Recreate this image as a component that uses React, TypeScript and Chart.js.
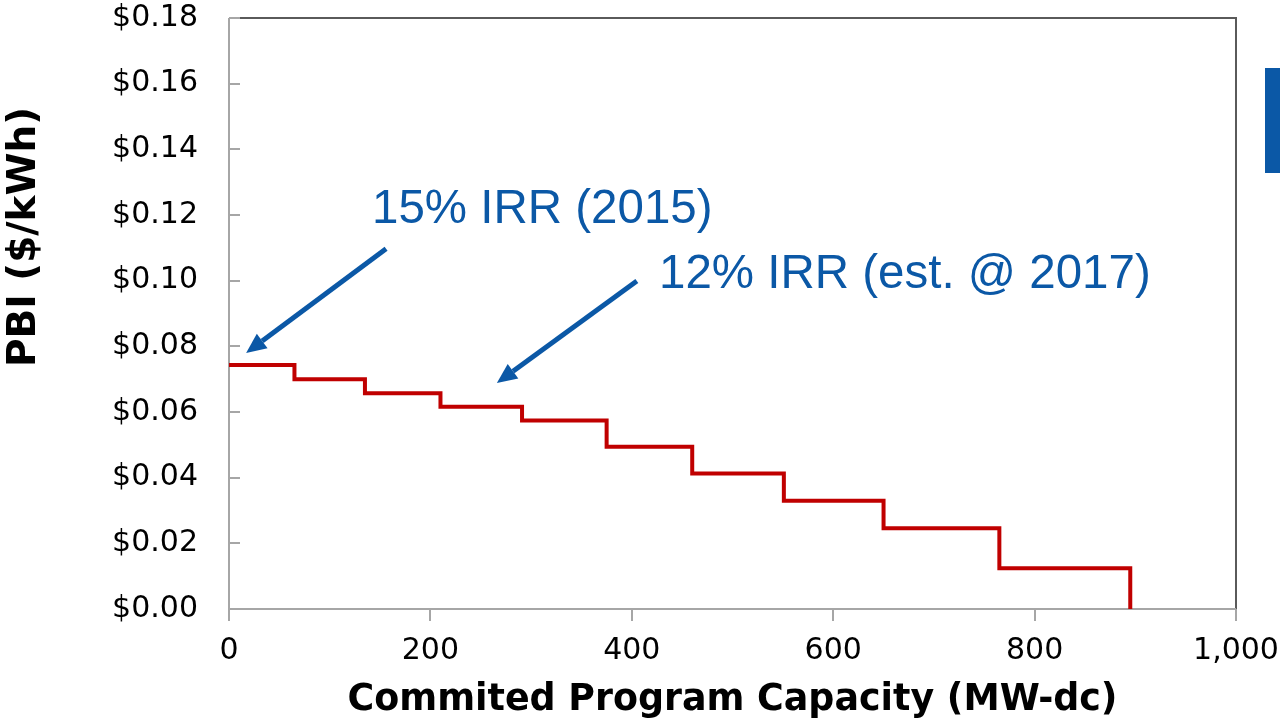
import React, { useEffect, useRef } from "react";
import { Chart, registerables } from "chart.js";

Chart.register(...registerables);

// ---- data ----
const capacityMW = [0, 65, 135, 210, 291, 375, 460, 551, 650, 765, 895];
const pbiRate = [0.0743, 0.07, 0.0657, 0.0616, 0.0574, 0.0494, 0.0413, 0.033, 0.0246, 0.0124, 0];

const xTickValues = [0, 200, 400, 600, 800, 1000];
const xTickLabels = ["0", "200", "400", "600", "800", "1,000"];
const yTickValues = [0, 0.02, 0.04, 0.06, 0.08, 0.1, 0.12, 0.14, 0.16, 0.18];
const yTickLabels = ["$0.00", "$0.02", "$0.04", "$0.06", "$0.08", "$0.10", "$0.12", "$0.14", "$0.16", "$0.18"];

const xTitle = "Commited Program Capacity (MW-dc)";
const yTitle = "PBI ($/kWh)";

// annotations (in data coordinates)
const noteTexts = ["15% IRR (2015)", "12% IRR (est. @ 2017)"];
const noteX = [142, 427];
const noteY = [0.1176, 0.0978];
const arrowFromX = [156, 405];
const arrowFromY = [0.1097, 0.0999];
const arrowToX = [17, 266];
const arrowToY = [0.078, 0.0688];

const BLUE = "#0b58a6";
const TICK_FONT = "DejaVu Sans, Verdana, sans-serif";

const framePlugin = {
  id: "frame",
  beforeDatasetsDraw(chart: any) {
    const { ctx, chartArea: a, scales } = chart;
    const x = scales.x;
    const y = scales.y;
    ctx.save();
    ctx.strokeStyle = "#5a5a5a";
    ctx.lineWidth = 2;
    ctx.beginPath();
    ctx.moveTo(a.left + 11, a.top);
    ctx.lineTo(a.right, a.top);
    ctx.lineTo(a.right, a.bottom);
    ctx.stroke();
    ctx.strokeStyle = "#a6a6a6";
    ctx.lineWidth = 2;
    ctx.beginPath();
    ctx.moveTo(a.left, a.top);
    ctx.lineTo(a.left, a.bottom);
    ctx.lineTo(a.right, a.bottom);
    ctx.stroke();
    ctx.beginPath();
    yTickValues.forEach((v) => {
      const py = Math.round(y.getPixelForValue(v));
      ctx.moveTo(a.left, py);
      ctx.lineTo(a.left + 11, py);
    });
    xTickValues.forEach((v) => {
      const px = Math.round(x.getPixelForValue(v));
      ctx.moveTo(px, a.bottom);
      ctx.lineTo(px, a.bottom + 12);
    });
    ctx.stroke();
    ctx.restore();
  },
  afterDraw(chart: any) {
    const { ctx, chartArea: a, scales } = chart;
    const x = scales.x;
    const y = scales.y;
    ctx.save();
    ctx.fillStyle = "#000";
    ctx.font = "bold 36.4px " + TICK_FONT;
    ctx.textAlign = "center";
    ctx.textBaseline = "alphabetic";
    ctx.fillText(xTitle, (a.left + a.right) / 2, 710);
    ctx.save();
    ctx.font = "bold 39px " + TICK_FONT;
    ctx.translate(35, 237);
    ctx.rotate(-Math.PI / 2);
    ctx.fillText(yTitle, 0, 0);
    ctx.restore();

    ctx.fillStyle = BLUE;
    ctx.font = "47.5px Liberation Sans, Arial, sans-serif";
    ctx.textAlign = "left";
    noteTexts.forEach((t, i) => {
      ctx.fillText(t, x.getPixelForValue(noteX[i]), y.getPixelForValue(noteY[i]));
    });

    ctx.strokeStyle = BLUE;
    ctx.lineWidth = 5;
    arrowFromX.forEach((_, i) => {
      const x0 = x.getPixelForValue(arrowFromX[i]);
      const y0 = y.getPixelForValue(arrowFromY[i]);
      const x1 = x.getPixelForValue(arrowToX[i]);
      const y1 = y.getPixelForValue(arrowToY[i]);
      const ang = Math.atan2(y1 - y0, x1 - x0);
      const headLen = 20;
      const headW = 9;
      const bx = x1 - headLen * Math.cos(ang);
      const by = y1 - headLen * Math.sin(ang);
      ctx.beginPath();
      ctx.moveTo(x0, y0);
      ctx.lineTo(bx, by);
      ctx.stroke();
      ctx.beginPath();
      ctx.moveTo(x1, y1);
      ctx.lineTo(bx + headW * Math.sin(ang), by - headW * Math.cos(ang));
      ctx.lineTo(bx - headW * Math.sin(ang), by + headW * Math.cos(ang));
      ctx.closePath();
      ctx.fill();
    });

    ctx.fillStyle = BLUE;
    ctx.fillRect(1265, 68, 15, 105);
    ctx.restore();
  },
};

const zeroPad = (s: any) => {
  s.paddingTop = 0;
  s.paddingBottom = 0;
  s.paddingLeft = 0;
  s.paddingRight = 0;
};

export default function App() {
  const ref = useRef<HTMLCanvasElement | null>(null);
  useEffect(() => {
    if (!ref.current) return;
    const chart = new Chart(ref.current, {
      type: "line",
      data: {
        datasets: [
          {
            data: capacityMW.map((c, i) => ({ x: c, y: pbiRate[i] })),
            stepped: "before",
            borderColor: "#c00000",
            borderWidth: 4,
            pointRadius: 0,
            fill: false,
          } as any,
        ],
      },
      options: {
        animation: false,
        responsive: false,
        devicePixelRatio: 1,
        layout: { padding: { top: 18, right: 44, left: 0, bottom: 0 } },
        plugins: { legend: { display: false }, tooltip: { enabled: false } },
        scales: {
          x: {
            type: "linear",
            min: 0,
            max: 1000,
            grid: { display: false, drawTicks: false },
            border: { display: false },
            ticks: {
              autoSkip: false,
              maxRotation: 0,
              padding: 24,
              color: "#000",
              font: { family: TICK_FONT, size: 30 },
              callback: (_v: any, i: number) => xTickLabels[i],
            },
            afterBuildTicks: (s: any) => {
              s.ticks = xTickValues.map((v) => ({ value: v }));
            },
            afterFit: (s: any) => {
              s.height = 111;
              zeroPad(s);
            },
          },
          y: {
            type: "linear",
            min: 0,
            max: 0.18,
            grid: { display: false, drawTicks: false },
            border: { display: false },
            ticks: {
              autoSkip: false,
              padding: 31,
              color: "#000",
              font: { family: TICK_FONT, size: 30 },
              callback: (_v: any, i: number) => yTickLabels[i],
            },
            afterBuildTicks: (s: any) => {
              s.ticks = yTickValues.map((v) => ({ value: v }));
            },
            afterFit: (s: any) => {
              s.width = 229;
              zeroPad(s);
            },
          },
        },
      },
      plugins: [framePlugin],
    });
    return () => chart.destroy();
  }, []);
  return (
    <div style={{ position: "absolute", left: 0, top: 0, width: 1280, height: 720, background: "#fff" }}>
      <canvas ref={ref} width={1280} height={720} style={{ display: "block" }} />
    </div>
  );
}
